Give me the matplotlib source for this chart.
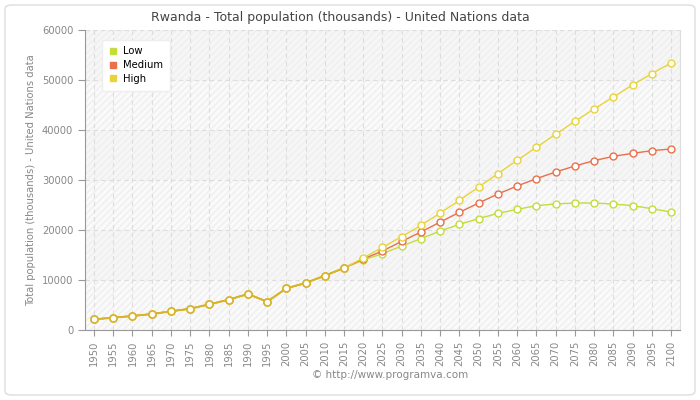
import matplotlib
matplotlib.use("Agg")
import matplotlib.pyplot as plt
from matplotlib.patches import FancyBboxPatch, Rectangle
from matplotlib.lines import Line2D

years_hist = [1950, 1955, 1960, 1965, 1970, 1975, 1980, 1985, 1990, 1995, 2000, 2005, 2010, 2015]
hist = [2130, 2470, 2800, 3200, 3730, 4270, 5130, 6070, 7200, 5670, 8330, 9400, 10870, 12400]

years_proj = [2020, 2025, 2030, 2035, 2040, 2045, 2050, 2055, 2060, 2065, 2070, 2075, 2080, 2085, 2090, 2095, 2100]
low = [14000, 15270, 16800, 18270, 19800, 21130, 22270, 23330, 24130, 24870, 25200, 25400, 25400, 25200, 24870, 24270, 23600]
medium = [14200, 15800, 17730, 19600, 21600, 23530, 25400, 27200, 28800, 30270, 31600, 32800, 33870, 34730, 35330, 35870, 36200]
high = [14400, 16530, 18670, 20930, 23400, 25930, 28600, 31270, 33930, 36530, 39130, 41730, 44200, 46600, 49000, 51270, 53400]

series_names = ["Low", "Medium", "High"]
colors = {"Low": "#c5dc3a", "Medium": "#e8704a", "High": "#e8d43a"}
hist_color = "#d8b428"

title = "Rwanda - Total population (thousands) - United Nations data"
ylabel = "Total population (thousands) - United Nations data"
credit = "© http://www.programva.com"

fig = plt.figure(figsize=(7, 4), dpi=100)
fig.patch.set_facecolor("white")
frame = FancyBboxPatch((5 / 700, 5 / 400), 690 / 700, 390 / 400,
                       boxstyle="round,pad=0,rounding_size=0.01",
                       transform=fig.transFigure, facecolor="none",
                       edgecolor="#dddddd", linewidth=1.0, zorder=-1)
fig.patches.append(frame)

ax = fig.add_axes([85 / 700, 70 / 400, 595 / 700, 300 / 400])
ax.set_facecolor("#fcfcfc")
x0 = 1950 - 9 / 3.847
x1 = 2100 + 9 / 3.847
ax.set_xlim(x0, x1)
ax.set_ylim(0, 60000)

for i, lo in enumerate(range(0, 60000, 10000)):
    fc = "#fafafa" if i % 2 == 0 else "#f6f6f6"
    ax.add_patch(Rectangle((x0, lo), x1 - x0, 10000, facecolor=fc,
                           edgecolor="#efefef", hatch="/////", linewidth=0, zorder=0))

for y in range(0, 60001, 10000):
    ax.axhline(y, color="#dddddd", lw=0.8, ls=(0, (4, 3)), zorder=1)
for x in range(1950, 2101, 5):
    ax.axvline(x, color="#dddddd", lw=0.8, ls=(0, (4, 3)), zorder=1)

data = {"Low": low, "Medium": medium, "High": high}
for name in series_names:
    xs = years_hist + years_proj
    ys = hist + data[name]
    ax.plot(xs, ys, color=colors[name], lw=1.0, marker="o", ms=5,
            mfc="white", mec=colors[name], mew=1.0, zorder=3)
ax.plot(years_hist, hist, color=hist_color, lw=1.4, marker="o", ms=5,
        mfc="white", mec=hist_color, mew=1.1, zorder=4)

ax.spines["top"].set_visible(False)
ax.spines["right"].set_color("#dddddd")
ax.spines["left"].set_color("#999999")
ax.spines["bottom"].set_color("#999999")

ax.set_xticks(list(range(1950, 2101, 5)))
ax.set_xticklabels([str(y) for y in range(1950, 2101, 5)], rotation=90)
ax.set_yticks(list(range(0, 60001, 10000)))
ax.tick_params(axis="both", colors="#999999", labelcolor="#888888", labelsize=7.2,
               length=4, width=0.8)
ax.tick_params(axis="y", length=5)

ax.set_ylabel(ylabel, color="#888888", fontsize=7.2, labelpad=4)

fig.text(340 / 700, 1 - 17 / 400, title, ha="center", va="center",
         fontsize=9, color="#444444")
fig.text(390 / 700, 1 - 375 / 400, credit, ha="center", va="center",
         fontsize=7.5, color="#888888")

handles = [Line2D([], [], marker="s", color="none", mfc=colors[n], mec=colors[n], ms=4)
           for n in series_names]
leg = ax.legend(handles, series_names, loc="upper left", bbox_to_anchor=(0.02, 0.985),
                frameon=True, fontsize=7.2, handlelength=0.8, handletextpad=0.6,
                labelspacing=0.35, borderpad=0.7, fancybox=True)
leg.get_frame().set_edgecolor("#eeeeee")
leg.get_frame().set_facecolor("white")
leg.get_frame().set_alpha(1.0)

fig.savefig("out.png", dpi=100)
